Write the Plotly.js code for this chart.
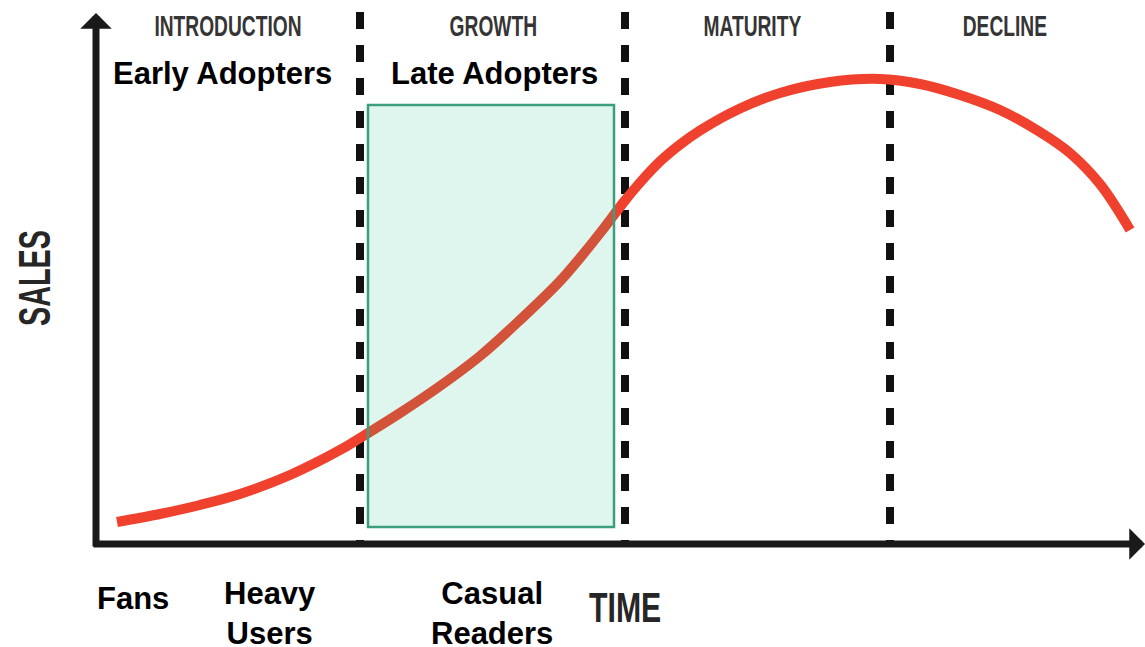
<!DOCTYPE html>
<html><head><meta charset="utf-8">
<script src="https://cdn.plot.ly/plotly-3.0.1.min.js"></script>
<style>html,body{margin:0;padding:0;background:#fff;overflow:hidden}#chart{width:1145px;height:647px;}</style>
</head><body><div id="chart"></div>
<script>
// ---- data (time in phase units, sales in % of peak) ----
const time  = [0.083, 0.245, 0.396, 0.547, 0.736, 0.925, 1.000, 1.151, 1.302, 1.453, 1.604, 1.755, 1.830, 1.906, 2.000,
               2.057, 2.132, 2.208, 2.283, 2.434, 2.585, 2.774, 2.962, 3.113, 3.264, 3.415, 3.566, 3.679, 3.792, 3.906];
const sales = [4.74, 6.47, 8.41, 10.78, 14.87, 20.26, 22.84, 28.23, 34.05, 40.52, 48.28, 56.68, 61.64, 67.03, 74.03,
               77.91, 82.44, 86.10, 89.12, 93.86, 97.20, 99.57, 100.22, 99.14, 96.77, 93.53, 88.79, 84.27, 77.59, 67.67];
const phaseNames = ['INTRODUCTION', 'GROWTH', 'MATURITY', 'DECLINE'];
const phaseBounds = [1, 2, 3];
const adopterLabels = ['Early Adopters', 'Late Adopters'];
const audienceLabels = ['Fans', 'Heavy<br>Users', 'Casual<br>Readers'];
const axisTitles = ['SALES', 'TIME'];

// ---- pixel helpers for layout placement (figure spans whole page) ----
const W = 1145, H = 647;
const PX0 = 95, PXU = 265;      // x pixel of t=0, pixels per phase
const PY0 = 544, PYU = 4.64;    // y pixel of s=0, pixels per sales unit
const t = px => (px - PX0) / PXU;
const s = py => (PY0 - py) / PYU;

const phaseLabelPx = [228, 493, 752, 1005];
const adopterPx = [222, 494];
const audiencePx = [[133, 598], [270, 613], [492, 613]];

const sans = 'Liberation Sans, Arial, sans-serif';

const shapes = [];
phaseBounds.forEach(b => {
  shapes.push({type: 'line', xref: 'x', yref: 'y', x0: b, x1: b, y0: s(12), y1: s(544),
    line: {color: '#111', width: 8, dash: '17px,16px'}, layer: 'below'});
});
shapes.push({type: 'rect', xref: 'x', yref: 'y', x0: t(368), x1: t(614), y0: s(527), y1: s(105),
  fillcolor: 'rgba(26,188,136,0.14)', line: {color: '#3a9e7f', width: 2.5}, layer: 'above'});

const annotations = [];
const squeeze = {};   // annotation index -> horizontal condense factor
phaseNames.forEach((n, i) => {
  squeeze[annotations.length] = 0.64;
  annotations.push({
    x: t(phaseLabelPx[i]), y: s(25), xref: 'x', yref: 'y', text: '<b>' + n + '</b>', showarrow: false,
    font: {family: sans, size: 30, color: '#353535'}, xanchor: 'center', yanchor: 'middle'});
});
adopterLabels.forEach((n, i) => annotations.push({
  x: t(adopterPx[i]), y: s(73), xref: 'x', yref: 'y', text: '<b>' + n + '</b>', showarrow: false,
  font: {family: sans, size: 31, color: '#000'}, xanchor: 'center', yanchor: 'middle'}));
audienceLabels.forEach((n, i) => annotations.push({
  x: t(audiencePx[i][0]), y: s(audiencePx[i][1]), xref: 'x', yref: 'y', text: '<b>' + n + '</b>', showarrow: false,
  font: {family: sans, size: 31, color: '#000'}, xanchor: 'center', yanchor: 'middle'}));
// axis titles
squeeze[annotations.length] = 0.64;
annotations.push({x: t(34), y: s(278), xref: 'x', yref: 'y', text: '<b>' + axisTitles[0] + '</b>', textangle: -90, showarrow: false,
  font: {family: sans, size: 45, color: '#262626'}, xanchor: 'center', yanchor: 'middle'});
squeeze[annotations.length] = 0.72;
annotations.push({x: t(625), y: s(607), xref: 'x', yref: 'y', text: '<b>' + axisTitles[1] + '</b>', showarrow: false,
  font: {family: sans, size: 42, color: '#262626'}, xanchor: 'center', yanchor: 'middle'});
// axis arrows
annotations.push({x: t(96), y: s(13), ax: t(96), ay: s(548), xref: 'x', yref: 'y', axref: 'x', ayref: 'y',
  text: '', showarrow: true, arrowhead: 1, arrowsize: 0.75, arrowwidth: 7, arrowcolor: '#1a1a1a'});
annotations.push({x: t(1145), y: s(544), ax: t(92), ay: s(544), xref: 'x', yref: 'y', axref: 'x', ayref: 'y',
  text: '', showarrow: true, arrowhead: 1, arrowsize: 0.75, arrowwidth: 7, arrowcolor: '#1a1a1a'});

const trace = {x: time, y: sales, type: 'scatter', mode: 'lines',
  line: {color: '#f0412e', width: 10, shape: 'spline', smoothing: 1}, hoverinfo: 'skip'};

const layout = {
  width: W, height: H, margin: {l: 0, r: 0, t: 0, b: 0},
  paper_bgcolor: '#fff', plot_bgcolor: '#fff', showlegend: false,
  xaxis: {range: [t(0), t(W)], visible: false, fixedrange: true},
  yaxis: {range: [s(H), s(0)], visible: false, fixedrange: true},
  shapes: shapes, annotations: annotations
};
Plotly.newPlot('chart', [trace], layout, {staticPlot: true, displayModeBar: false}).then(gd => {
  // emulate the condensed display typeface by narrowing those labels horizontally
  Object.keys(squeeze).forEach(i => {
    const el = gd.querySelector('.annotation[data-index="' + i + '"] text.annotation-text');
    if (!el) return;
    const bb = el.getBBox();
    const cx = bb.x + bb.width / 2;
    el.setAttribute('transform', 'translate(' + cx + ',0) scale(' + squeeze[i] + ',1) translate(' + (-cx) + ',0)');
  });
});
</script></body></html>
